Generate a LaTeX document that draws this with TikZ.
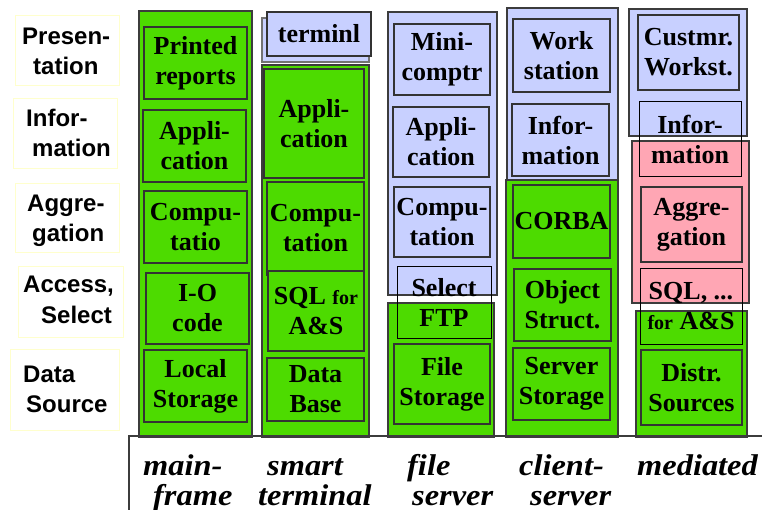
\documentclass[tikz,border=0pt]{standalone}
\usepackage{fontspec}
\setmainfont{Liberation Serif}
\newfontfamily\tiersans{Liberation Sans}
\newfontfamily\archfont[FakeStretch=1.08]{Liberation Serif}

\definecolor{tiergreen}{RGB}{77,219,0}
\definecolor{tierblue}{RGB}{200,208,255}
\definecolor{tierpink}{RGB}{255,166,180}
\definecolor{edgegray}{RGB}{60,60,60}
\definecolor{labeledge}{RGB}{255,255,205}

\tikzset{
  column/.style={draw=edgegray, line width=1.6pt, inner sep=0pt},
  part/.style={draw=black!80, line width=1.3pt, inner sep=0pt, align=center,
    font=\bfseries\fontsize{26}{30}\selectfont},
  overlaypart/.style={part, draw=black, line width=1pt},
  layerframe/.style={draw=labeledge, line width=1pt, inner sep=0pt},
  layertext/.style={anchor=base west, inner sep=0pt, align=left,
    font=\tiersans\bfseries\fontsize{24}{30}\selectfont},
  archtext/.style={anchor=base west, inner sep=0pt, align=left,
    font=\archfont\bfseries\itshape\fontsize{30}{30}\selectfont},
}

% box given by its corners (x1,y1) (x2,y2): style, name, x1, y1, x2, y2, text
\newcommand\tierbox[7]{%
  \pgfmathsetmacro\tbw{#5-#3}%
  \pgfmathsetmacro\tbh{#6-#4}%
  \node[#1, minimum width=\tbw pt, minimum height=\tbh pt]
    (#2) at ({(#3+#5)/2},{(#4+#6)/2}) {#7};}

\begin{document}
\begin{tikzpicture}[x=1pt,y=-1pt]
\useasboundingbox (0,0) rectangle (762,510);
\fill[white] (0,0) rectangle (762,510);

% layer names on the left (positioned at the baseline of their last line)
\tierbox{layerframe}{presbox}{15}{16}{119}{86}{}
\tierbox{layerframe}{infobox}{13}{99}{117}{169}{}
\tierbox{layerframe}{aggrbox}{15}{184}{119}{253}{}
\tierbox{layerframe}{accbox}{18}{267}{123}{337}{}
\tierbox{layerframe}{srcbox}{10}{349}{119}{430}{}
\node[layertext] (pres) at (22,75) {Presen-\\\hspace*{11pt}tation};
\node[layertext] (info) at (26,157) {Infor-\\\hspace*{6pt}mation};
\node[layertext] (aggr) at (27,242) {Aggre-\\\hspace*{5pt}gation};
\node[layertext] (acc) at (23,323) {Access,\\\hspace*{18pt}Select};
\node[layertext] (src) at (23,412) {Data\\\hspace*{3pt}Source};

% mainframe
\tierbox{column, fill=tiergreen}{mainframe}{139}{11}{252}{437}{}
\tierbox{part, fill=tiergreen}{prt}{144}{27}{247}{99}{Printed\\reports}
\tierbox{part, fill=tiergreen}{appA}{143}{110}{246}{182}{Appli-\\cation}
\tierbox{part, fill=tiergreen}{cmpA}{144}{191}{247}{263}{Compu-\\tatio}
\tierbox{part, fill=tiergreen}{ioA}{146}{273}{249}{344}{I-O\\code}
\tierbox{part, fill=tiergreen}{locA}{144}{350}{247}{422}{Local\\Storage}

% smart terminal
\tierbox{column, draw=black!55, fill=tierblue}{termback}{262}{18}{369}{62}{}
\tierbox{part, fill=tierblue}{term}{267}{12}{371}{56}{terminl}
\tierbox{column, fill=tiergreen}{smart}{262}{65}{369}{437}{}
\tierbox{part, fill=tiergreen}{appB}{264}{69}{364}{178}{Appli-\\cation}
\tierbox{part, fill=tiergreen}{cmpB}{267}{182}{364}{275}{Compu-\\tation}
\tierbox{part, fill=tiergreen}{sqlB}{268}{271}{364}{351}{SQL {\fontsize{20}{30}\selectfont for}\\A\&S}
\tierbox{part, fill=tiergreen}{dbB}{267}{358}{364}{421}{Data\\Base}

% file server
\tierbox{column, fill=tierblue}{fsclient}{388}{12}{497}{295}{}
\tierbox{part, fill=tierblue}{mini}{394}{24}{490}{95}{Mini-\\comptr}
\tierbox{part, fill=tierblue}{appC}{393}{107}{489}{177}{Appli-\\cation}
\tierbox{part, fill=tierblue}{cmpC}{394}{187}{490}{257}{Compu-\\tation}
\tierbox{column, fill=tiergreen}{fsserver}{388}{303}{494}{437}{}
\tierbox{part, fill=tiergreen}{fileC}{394}{344}{490}{424}{File\\Storage}
\tierbox{overlaypart}{selC}{397}{267}{491}{338}{Select\\FTP}

% client-server
\tierbox{column, fill=tierblue}{csclient}{507}{8}{618}{180}{}
\tierbox{part, fill=tierblue}{work}{513}{19}{610}{92}{Work\\station}
\tierbox{part, fill=tierblue}{infD}{512}{104}{609}{176}{Infor-\\mation}
\tierbox{column, fill=tiergreen}{csserver}{506}{180}{618}{437}{}
\tierbox{part, fill=tiergreen}{corba}{513}{185}{610}{258}{CORBA}
\tierbox{part, fill=tiergreen}{objD}{514}{269}{611}{341}{Object\\Struct.}
\tierbox{part, fill=tiergreen}{srvD}{513}{348}{610}{420}{Server\\Storage}

% mediated
\tierbox{column, fill=tierblue}{medclient}{629}{9}{747}{136}{}
\tierbox{part, fill=tierblue}{cust}{638}{15}{739}{90}{Custmr.\\Workst.}
\tierbox{column, fill=tierpink}{mediator}{632}{141}{749}{303}{}
\tierbox{part, fill=tierpink}{aggE}{641}{187}{742}{262}{Aggre-\\gation}
\tierbox{column, fill=tiergreen}{medsources}{636}{311}{747}{437}{}
\tierbox{part, fill=tiergreen}{distr}{641}{350}{742}{425}{Distr.\\Sources}
\tierbox{overlaypart}{infE}{639}{102}{741}{177}{Infor-\\mation}
\tierbox{overlaypart}{sqlE}{640}{269}{742}{344}{SQL, ...\\{\fontsize{20}{30}\selectfont for} A\&S}

% base with architecture names
\coordinate (baseL) at (129,510);
\coordinate (baseC) at (129,436);
\coordinate (baseR) at (762,436);
\draw[edgegray, line width=1.4pt] (baseL) -- (baseC) -- (baseR);
\node[archtext] (archA) at (143,505) {main-\\\hspace*{10pt}frame};
\node[archtext] (archB) at (258,505) {\hspace*{9pt}smart\\terminal};
\node[archtext] (archC) at (407,505) {file\\\hspace*{5pt}server};
\node[archtext] (archD) at (519,505) {client-\\\hspace*{11pt}server};
\node[archtext] (archE) at (637,475) {mediated};
\end{tikzpicture}
\end{document}
